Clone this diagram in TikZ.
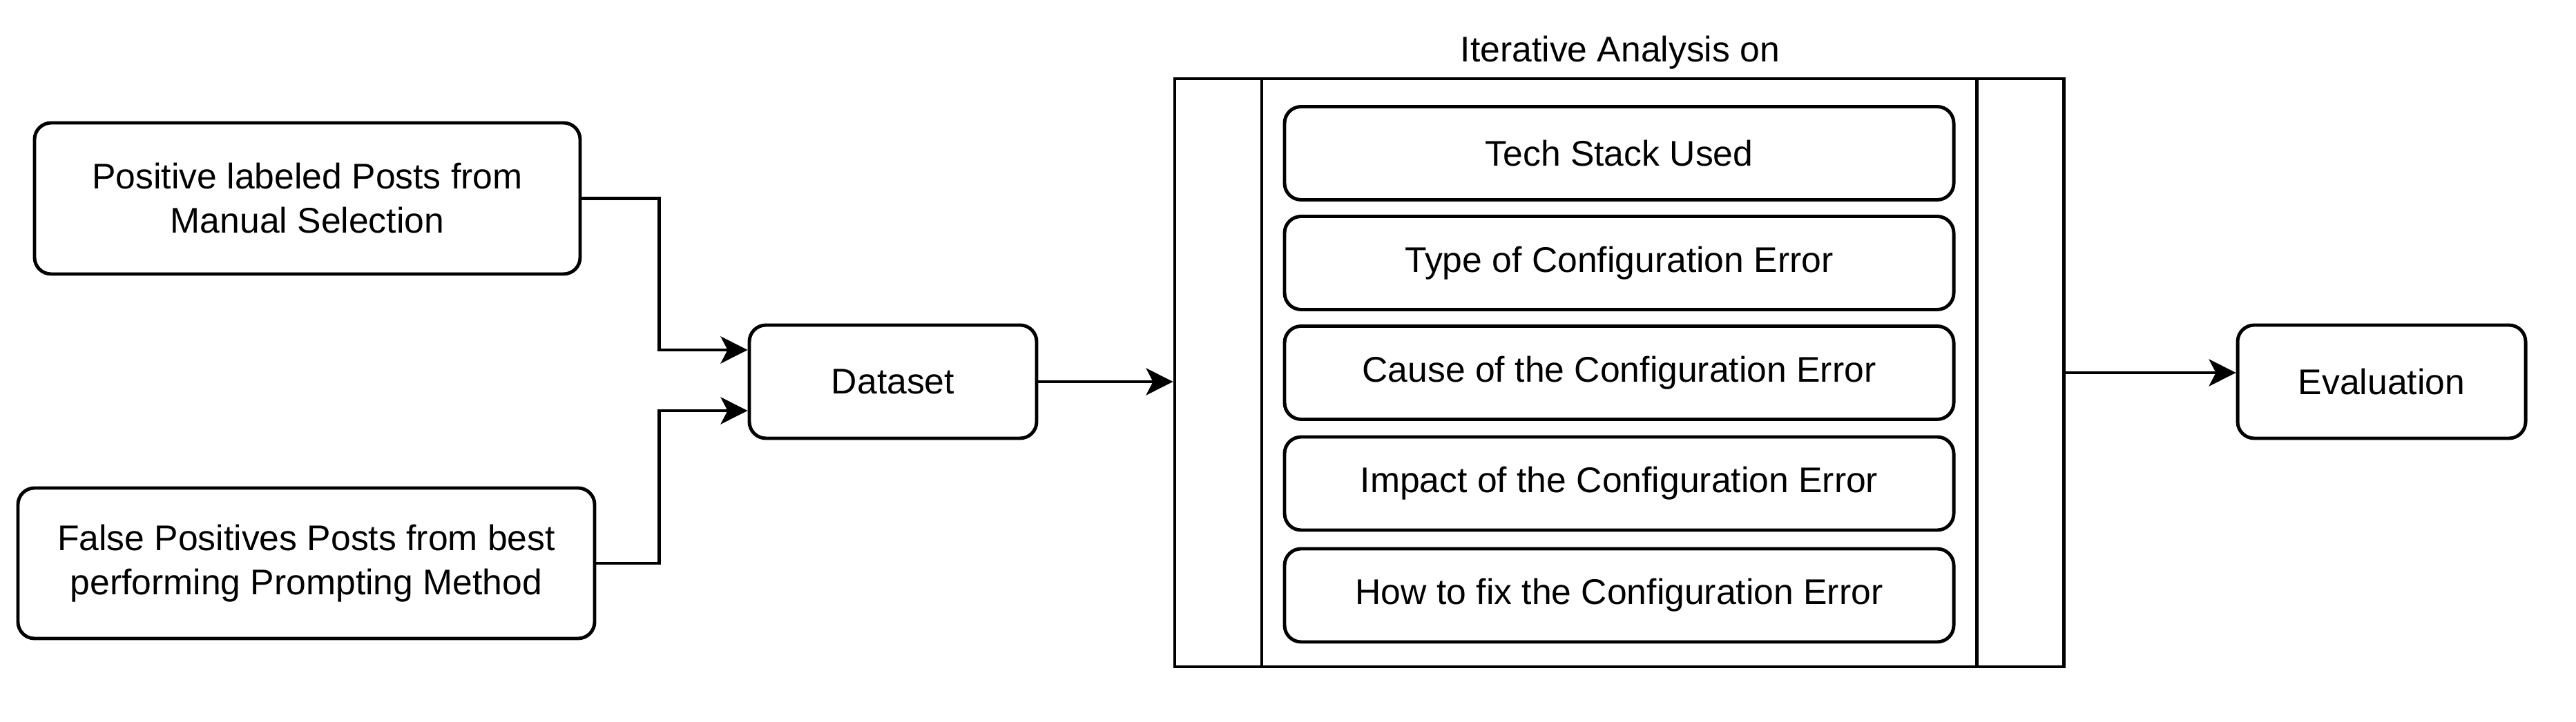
\documentclass[tikz,border=0pt]{standalone}
\usepackage{fontspec}
\setmainfont{Liberation Sans}
\usetikzlibrary{arrows.meta}

\begin{document}
\begin{tikzpicture}[
    font=\fontsize{14.7}{18.2}\selectfont,
    every node/.style={line width=1.4pt},
    rbox/.style={draw, rounded corners=0.24cm, align=center, inner sep=0pt},
    arr/.style={line width=1.4pt, -{Stealth[length=0.39cm, width=0.39cm, inset=0.1cm]}}
  ]
  \useasboundingbox (0, 0) rectangle (37.3, -10.46);

  \node[rbox, minimum width=7.9cm, minimum height=2.19cm] (pos) at (4.45, -2.875)
    {Positive labeled Posts from\\Manual Selection};
  \node[rbox, minimum width=8.35cm, minimum height=2.18cm] (fp) at (4.435, -8.16)
    {False Positives Posts from best\\performing Prompting Method};

  \node[rbox, minimum width=4.16cm, minimum height=1.64cm] (data) at (12.93, -5.53) {Dataset};
  \node[rbox, minimum width=4.17cm, minimum height=1.64cm] (eval) at (34.485, -5.53) {Evaluation};

  \node[draw, minimum width=12.87cm, minimum height=8.52cm, inner sep=0pt] (iter) at (23.445, -5.40) {};
  \node (title) at (23.46, -0.76) {Iterative Analysis on};
  \draw[line width=1.4pt] ([xshift=-5.175cm]iter.north) -- ([xshift=-5.175cm]iter.south);
  \draw[line width=1.4pt] ([xshift=5.175cm]iter.north) -- ([xshift=5.175cm]iter.south);

  \node[rbox, minimum width=9.69cm, minimum height=1.35cm] (tech) at (23.445, -2.22) {Tech Stack Used};
  \node[rbox, minimum width=9.69cm, minimum height=1.35cm] (type) at (23.445, -3.81) {Type of Configuration Error};
  \node[rbox, minimum width=9.69cm, minimum height=1.35cm] (cause) at (23.445, -5.40) {Cause of the Configuration Error};
  \node[rbox, minimum width=9.69cm, minimum height=1.35cm] (impact) at (23.445, -7.005) {Impact of the Configuration Error};
  \node[rbox, minimum width=9.69cm, minimum height=1.35cm] (fix) at (23.445, -8.625) {How to fix the Configuration Error};

  \draw[arr] (pos.east) -- ++(1.12, 0) |- ([yshift=0.46cm]data.west);
  \draw[arr] (fp.east) -- ++(0.91, 0) |- ([yshift=-0.42cm]data.west);
  \draw[arr] (data.east) -- (data.east -| iter.west);
  \draw[arr] (iter.east) -- (iter.east -| eval.west);
\end{tikzpicture}
\end{document}
